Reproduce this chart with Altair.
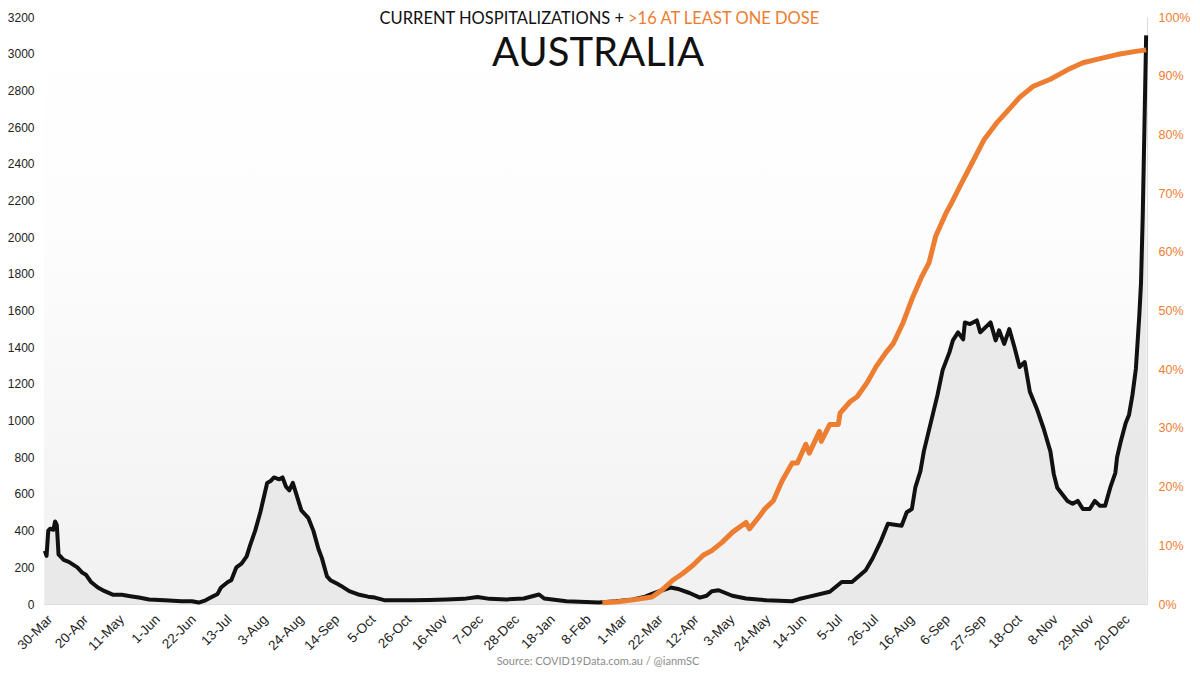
import pandas as pd
import altair as alt

# Days since 30-Mar-2020 and the values
start = pd.Timestamp("2020-03-30")

hosp_day = [0, 1, 2, 3, 5, 6, 7, 8, 11, 14, 19, 22, 24, 27, 31, 35, 40, 45, 50, 55,
            61, 70, 80, 86, 90, 94, 97, 101, 103, 107, 109, 112, 115, 118, 120, 123, 126, 129, 130, 132,
            134, 137, 139, 141, 143, 145, 147, 150, 154, 157, 160, 162, 165, 167, 171, 173, 178, 184, 189, 193,
            199, 206, 215, 225, 235, 245, 253, 260, 270, 280, 289, 292, 305, 324, 334, 344, 351, 355, 361, 366,
            371, 377, 383, 387, 390, 394, 398, 402, 410, 422, 437, 441, 447, 459, 466, 472, 480, 484, 489, 493,
            501, 504, 507, 509, 512, 514, 522, 525, 529, 531, 534, 537, 538, 541, 545, 547, 553, 556, 558, 561,
            564, 567, 570, 573, 576, 580, 584, 588, 590, 592, 598, 601, 604, 607, 611, 614, 617, 620, 623, 626,
            627, 629, 632, 634, 636, 638, 640, 641, 642, 643, 644]
hosp_count = [290, 262, 400, 410, 405, 450, 430, 270, 240, 230, 200, 170, 160, 120, 90, 70, 50, 50, 42, 35,
              25, 20, 15, 15, 8, 20, 35, 55, 90, 120, 130, 200, 220, 260, 320, 400, 500, 620, 660, 670,
              690, 680, 690, 640, 620, 660, 600, 510, 470, 400, 300, 250, 150, 130, 110, 100, 70, 50, 40, 35,
              20, 20, 20, 22, 25, 28, 38, 28, 25, 30, 52, 30, 15, 8, 15, 25, 40, 55, 75, 90,
              80, 60, 35, 45, 70, 75, 60, 45, 30, 20, 15, 27, 40, 67, 120, 120, 184, 248, 346, 437,
              427, 500, 518, 634, 724, 832, 1140, 1275, 1373, 1437, 1481, 1443, 1535, 1526, 1546, 1481, 1535, 1437, 1492, 1418,
              1499, 1400, 1292, 1319, 1157, 1066, 958, 832, 708, 634, 562, 546, 562, 518, 518, 562, 535, 535, 634, 715,
              800, 880, 985, 1032, 1140, 1283, 1573, 1751, 2113, 2600, 3100]

vax_day = [326, 335, 344, 355, 361, 367, 373, 379, 385, 390, 396, 402, 410, 412, 418, 421, 426, 431, 437, 440,
           445, 447, 453, 454, 459, 464, 465, 471, 475, 481, 486, 492, 496, 502, 507, 513, 517, 521, 527, 530,
           535, 543, 549, 557, 563, 570, 578, 588, 598, 607, 617, 627, 637, 644]
vax_pct = [0.2, 0.4, 0.7, 1.2, 2.4, 4.0, 5.2, 6.6, 8.3, 9.1, 10.5, 12.2, 13.9, 12.8, 15.0, 16.2, 17.6, 20.9, 24.0, 24.0,
           27.2, 25.7, 29.4, 27.7, 30.6, 30.6, 32.5, 34.5, 35.3, 37.8, 40.4, 42.9, 44.3, 48.0, 51.9, 55.9, 58.1, 62.7, 66.6, 68.2,
           71.1, 75.6, 79.0, 82.1, 84.0, 86.3, 88.2, 89.4, 91.0, 92.2, 92.9, 93.6, 94.1, 94.4]

ORANGE = "#ED7D31"
FONT = "Lato"


def to_date(days):
    return (start + pd.to_timedelta(days, unit="D")).strftime("%Y-%m-%d")


def ms(ts):
    return int(pd.Timestamp(ts).value // 10**6)


hosp = pd.DataFrame({"date": to_date(hosp_day), "count": hosp_count})
vax = pd.DataFrame({"date": to_date(vax_day), "pct": vax_pct})

tick_values = [ms(t) for t in pd.date_range(start, "2021-12-20", freq="21D")]
x_scale = alt.Scale(type="utc", domain=[ms("2020-03-29 12:00"), ms("2022-01-03 12:00")])
x_axis = alt.Axis(values=tick_values, labelExpr="utcFormat(datum.value, '%-d-%b')",
                  labelAngle=-45, labelFontSize=13.5, labelColor="#222", labelPadding=8,
                  labelOverlap=False, labelBound=False, labelFlush=False,
                  title=None, grid=False, ticks=False, domain=False)

# gradient plot background
bg = alt.Chart(pd.DataFrame({"v": [0]})).mark_rect(
    color=alt.Gradient(gradient="linear", x1=0, x2=0, y1=0, y2=1,
                       stops=[alt.GradientStop(color="#ffffff", offset=0),
                              alt.GradientStop(color="#fdfdfd", offset=0.35),
                              alt.GradientStop(color="#f1f1f1", offset=1)])
).encode(x=alt.value(0), x2=alt.value("width"), y=alt.value(0), y2=alt.value("height"))

y_left = alt.Scale(domain=[0, 3200])
left_axis = alt.Axis(values=list(range(0, 3201, 200)), format="d", title=None, grid=False,
                     ticks=False, domain=False, labelFontSize=12, labelColor="#222",
                     labelPadding=10, labelOverlap=False)

area = alt.Chart(hosp).mark_area(color="#e8e8e8", opacity=0.9).encode(
    x=alt.X("date:T", scale=x_scale, axis=x_axis),
    y=alt.Y("count:Q", scale=y_left, axis=left_axis),
)
hosp_line = alt.Chart(hosp).mark_line(color="#111111", strokeWidth=4, strokeJoin="round").encode(
    x=alt.X("date:T", scale=x_scale, axis=x_axis),
    y=alt.Y("count:Q", scale=y_left, axis=left_axis),
)
left = alt.layer(area, hosp_line)

vax_line = alt.Chart(vax).mark_line(color=ORANGE, strokeWidth=5, strokeJoin="round").encode(
    x=alt.X("date:T", scale=x_scale, axis=x_axis),
    y=alt.Y("pct:Q", scale=alt.Scale(domain=[0, 100]),
            axis=alt.Axis(orient="right", values=list(range(0, 101, 10)),
                          labelExpr="datum.value + '%'", title=None, grid=False, ticks=False,
                          domain=False, labelFontSize=12.5, labelColor=ORANGE, labelPadding=11,
                          labelOverlap=False)),
)


def note(text, x, y, size, color, align="center"):
    return alt.Chart(pd.DataFrame({"t": [text]})).mark_text(
        align=align, baseline="middle", fontSize=size, color=color, font=FONT
    ).encode(text="t:N", x=alt.value(x), y=alt.value(y))


title_a = note("CURRENT HOSPITALIZATIONS + ", 580, 2, 16.5, "#111111", align="right")
title_b = note(">16 AT LEAST ONE DOSE", 584, 2, 16.5, ORANGE, align="left")
big_title = note("AUSTRALIA", 554, 37, 40, "#111111")
source = note("Source: COVID19Data.com.au / @ianmSC", 554, 645, 11, "#8c8c8c")

chart = alt.layer(bg, left, vax_line, title_a, title_b, big_title, source).resolve_scale(
    y="independent"
).properties(
    width=1103,
    height=587,
    autosize=alt.AutoSizeParams(type="none"),
    padding={"left": 36, "top": 9, "right": 45, "bottom": 63},
).configure_view(stroke=None).configure_axis(labelFont=FONT).configure(background="white")

chart.save("out.html", embed_options={"renderer": "svg", "actions": False})
